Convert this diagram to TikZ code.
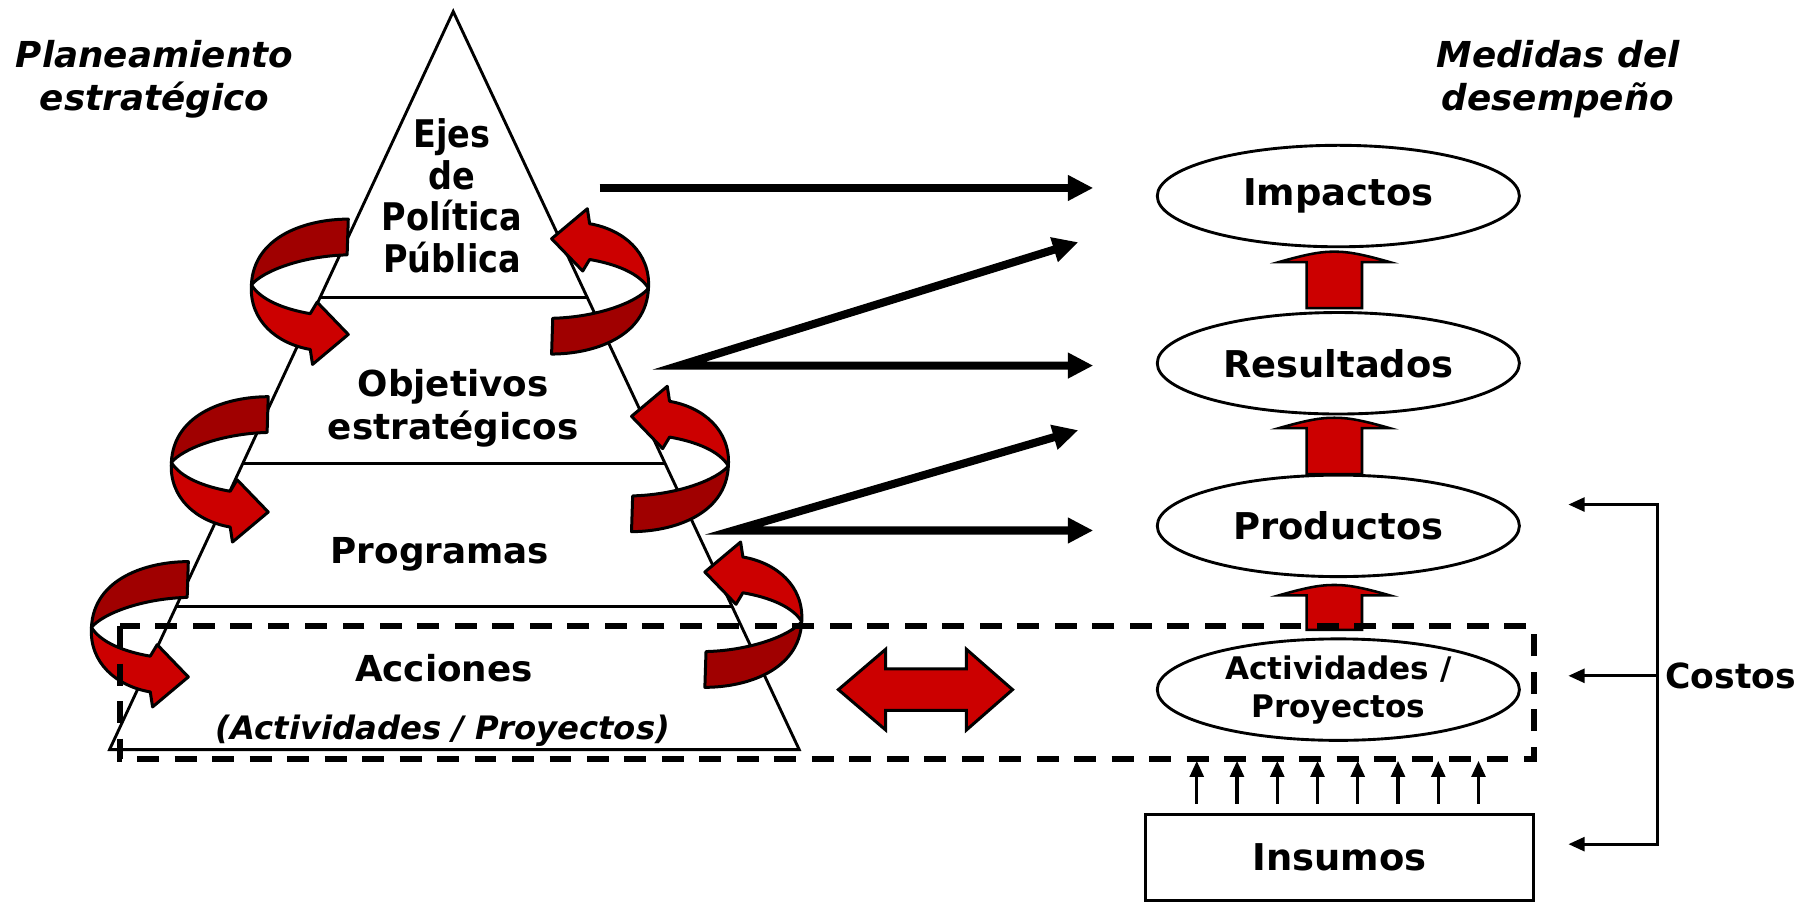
\documentclass[tikz,border=0pt]{standalone}
\usepackage{fontspec}
\setmainfont{DejaVu Sans}
\newfontfamily\narrowfont[FakeStretch=0.88]{DejaVu Sans}
\usetikzlibrary{shapes.geometric,arrows.meta,calc}
\definecolor{brightred}{RGB}{204,0,0}
\definecolor{darkred}{RGB}{160,0,0}
\newcommand\setfs[2]{\fontsize{#1}{#2}\selectfont}
\tikzset{
  ribline/.style={draw=black, line width=2.6pt, line join=round},
  ribbon/.pic={
    \draw[ribline, fill=darkred] (0,0) .. controls (-35,0) and (-82,14) .. (-84,57)
      .. controls (-74,45) and (-40,32) .. (-1,31) -- cycle;
    \draw[ribline, fill=brightred] (-84,57) .. controls (-86,88) and (-62,108) .. (-33,113)
      -- (-31,126) -- (0,100) -- (-27,72) -- (-33,82)
      .. controls (-56,78) and (-76,70) .. (-84,57) -- cycle;
  }
}
\begin{document}
\begin{tikzpicture}[x=1pt,y=-1pt,
  title/.style={font=\bfseries\itshape\setfs{31}{37.6}, align=center, inner sep=0pt},
  pyrtext/.style={font=\bfseries\setfs{31}{38}, align=center, inner sep=0pt},
  pyrline/.style={line width=2.5pt, line join=miter},
  divline/.style={line width=2pt},
  thickarr/.style={line width=7pt, line join=miter, {Triangle[length=22pt,width=21pt]}-{Triangle[length=22pt,width=21pt]}},
  thickone/.style={line width=7pt, -{Triangle[length=22pt,width=21pt]}},
  ell/.style={ellipse, draw, line width=2.5pt, minimum width=314pt, minimum height=88pt, inner sep=0pt, fill=white, font=\bfseries\setfs{32}{36}},
  blockarr/.style={draw=black, fill=brightred, line width=2.2pt, line join=miter},
  dashbox/.style={line width=5pt, dash pattern=on 19pt off 13.5pt},
  smallarr/.style={line width=2.8pt, -{Triangle[length=14pt,width=12pt]}},
  costline/.style={line width=2.5pt}
]
\useasboundingbox (0,0) rectangle (1569.5,783);

% ---------------- pyramid ----------------
\coordinate (apex) at (393,10);
\coordinate (bl) at (95,650);
\coordinate (br) at (693,650);
\draw[pyrline, fill=white] (apex) -- (bl) -- (br) -- cycle;
\draw[divline] ($(apex)!0.3875!(bl)$) -- ($(apex)!0.3875!(br)$);
\draw[divline] ($(apex)!0.6125!(bl)$) -- ($(apex)!0.6125!(br)$);
\draw[divline] ($(apex)!0.80625!(bl)$) -- ($(apex)!0.80625!(br)$);

\node[pyrtext, font=\narrowfont\bfseries\setfs{33}{36}] (ejes) at (392,170) {Ejes\\de\\Política\\Pública};
\node[pyrtext] (obj) at (393,354) {Objetivos\\estratégicos};
\node[pyrtext, anchor=base] (prog) at (381.5,489) {Programas};
\node[pyrtext, anchor=base] (acc) at (385,591) {Acciones};
\node[pyrtext, anchor=base, font=\bfseries\itshape\setfs{28}{32}] (accsub) at (384,641) {(Actividades / Proyectos)};

% ---------------- spiral ribbons ----------------
\pic at (302,190) {ribbon};
\pic at (232.6,344) {ribbon};
\pic at (163.3,487) {ribbon};
\pic[rotate=180] at (478.3,307) {ribbon};
\pic[rotate=180] at (547.6,461) {ribbon};
\pic[rotate=180] at (611.2,596) {ribbon};

% ---------------- titles ----------------
\node[title] (plan) at (134,68.6) {Planeamiento\\estratégico};
\node[title] (med) at (1351,68.6) {Medidas del\\desempeño};

% ---------------- right column ----------------
\node[ell] (imp) at (1160.5,170) {Impactos};
\node[ell] (res) at (1160.5,315) {Resultados};
\node[ell] (prod) at (1160.5,456) {Productos};
\node[ell, align=center, font=\bfseries\setfs{27}{33}] (act) at (1160.5,598) {Actividades /\\Proyectos};
\node[draw, line width=2.5pt, minimum width=337pt, minimum height=75pt, inner sep=0pt,
      font=\bfseries\setfs{32}{36}] (ins) at (1161.5,743.5) {Insumos};

% black arrows
\coordinate (a1s) at (520,163);  \coordinate (a1e) at (948,163);
\coordinate (a2s) at (589,317);  \coordinate (a2e) at (948,317); \coordinate (a2d) at (935,210);
\coordinate (a3s) at (636,460);  \coordinate (a3e) at (948,460); \coordinate (a3d) at (935,373);
\draw[thickone] (a1s) -- (a1e);
\draw[thickarr] (a2d) -- (a2s) -- (a2e);
\draw[thickarr] (a3d) -- (a3s) -- (a3e);

% red block arrows between ellipses
\newcommand\redup[2]{%
  \draw[blockarr] ($(#1)+(-48,9)$) .. controls ($(#1)+(-20,1)$) and ($(#1)+(-10,0)$) .. (#1)
    .. controls ($(#1)+(10,0)$) and ($(#1)+(20,1)$) .. ($(#1)+(48,9)$)
    -- ($(#1)+(24,9)$) -- ($(#1)+(24,#2)$) -- ($(#1)+(-24,#2)$) -- ($(#1)+(-24,9)$) -- cycle;}
\coordinate (t1) at ($(imp.south)+(-3.5,3)$);
\coordinate (t2) at ($(res.south)+(-3.5,2)$);
\coordinate (t3) at ($(prod.south)+(-3.5,6)$);
\redup{t1}{49}
\redup{t2}{49}
\redup{t3}{39}

% red double arrow
\coordinate (dbl) at (802.5,598);
\draw[ribline, fill=brightred, line join=miter]
  ($(dbl)+(-75.5,0)$) -- ($(dbl)+(-34.5,-35)$) -- ($(dbl)+(-34.5,-18)$) -- ($(dbl)+(35.5,-18)$)
  -- ($(dbl)+(35.5,-35)$) -- ($(dbl)+(75.5,0)$) -- ($(dbl)+(35.5,35)$) -- ($(dbl)+(35.5,18)$)
  -- ($(dbl)+(-34.5,18)$) -- ($(dbl)+(-34.5,35)$) -- cycle;

% insumos arrows
\foreach \i in {0,...,7}
  \draw[smallarr] ($(ins.north west)+({46+34.9*\i},-8)$) -- ++(0,-37);

% dashed box
\draw[dashbox] (104,543) rectangle (1330,658);

% costos bracket
\coordinate (cT) at (1437,437.5);  \coordinate (cTe) at (1360,437.5);
\coordinate (cM) at (1437,586);    \coordinate (cMe) at (1360,586);
\coordinate (cB) at (1437,732);    \coordinate (cBe) at (1360,732);
\draw[costline, line join=miter, {Triangle[length=14pt,width=12pt]}-{Triangle[length=14pt,width=12pt]}]
  (cTe) -- (cT) -- (cB) -- (cBe);
\draw[costline, -{Triangle[length=14pt,width=12pt]}] (cM) -- (cMe);
\node[anchor=west, inner sep=0pt, font=\bfseries\setfs{30}{36}] (costos) at (1444,586) {Costos};
\end{tikzpicture}
\end{document}
